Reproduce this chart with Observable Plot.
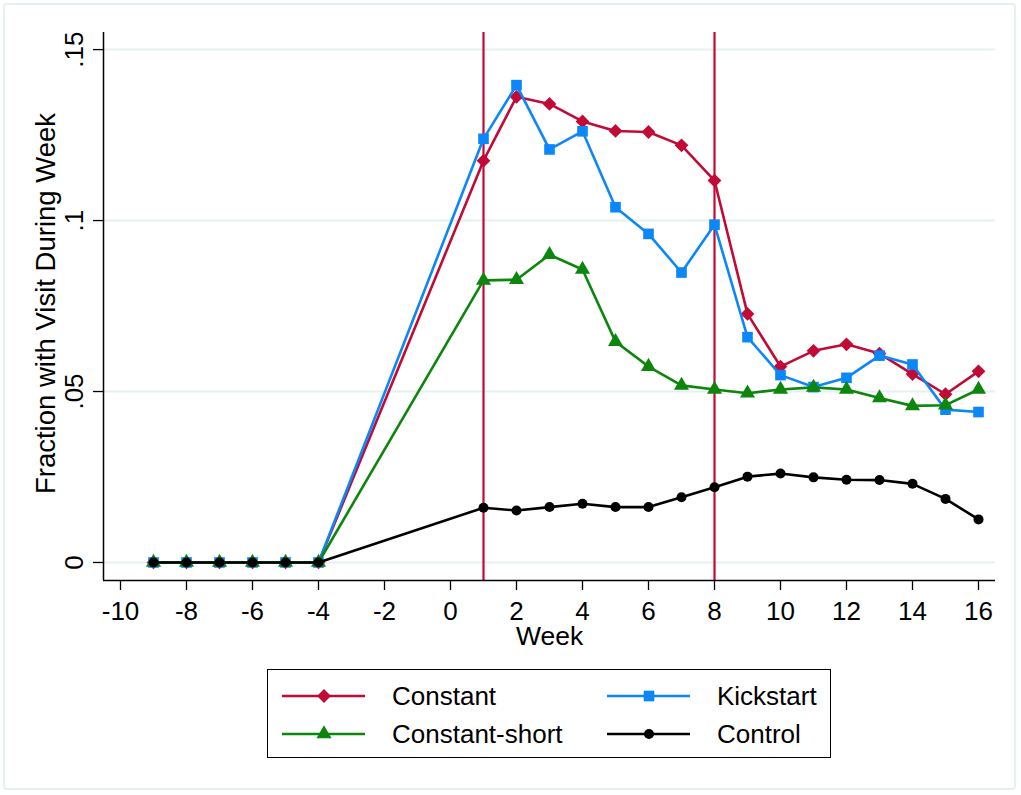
<!DOCTYPE html>
<html>
<head>
<meta charset="utf-8">
<script src="https://cdn.jsdelivr.net/npm/d3@7"></script>
<script src="https://cdn.jsdelivr.net/npm/@observablehq/plot@0.6"></script>
<style>
  html, body { margin: 0; padding: 0; background: #fff; }
  #wrap { position: relative; width: 1021px; height: 795px; font-family: "Liberation Sans", Arial, sans-serif; }
  #frame { position: absolute; left: 3px; top: 3px; width: 1013px; height: 787px; border: 2px solid #e6eff1; border-radius: 4px; box-sizing: border-box; }
  #chart { position: absolute; left: 0; top: 0; }
  #legend { position: absolute; left: 267px; top: 669px; width: 564px; height: 89px; border: 1.5px solid #000; box-sizing: border-box; background: #fff; }
</style>
</head>
<body>
<div id="wrap">
  <div id="frame"></div>
  <div id="chart"></div>
  <div id="legend"></div>
</div>
<script>
// ---- data ----
const weeks = [-9, -8, -7, -6, -5, -4, 1, 2, 3, 4, 5, 6, 7, 8, 9, 10, 11, 12, 13, 14, 15, 16];
const constant = [0, 0, 0, 0, 0, 0, 0.1175, 0.1362, 0.1341, 0.1290, 0.1262, 0.1259, 0.1220, 0.1117, 0.0727, 0.0573, 0.0619, 0.0638, 0.0611, 0.0551, 0.0492, 0.0559];
const kickstart = [0, 0, 0, 0, 0, 0, 0.1239, 0.1396, 0.1208, 0.1261, 0.1039, 0.0961, 0.0848, 0.0988, 0.0659, 0.0548, 0.0513, 0.0540, 0.0605, 0.0579, 0.0447, 0.0440];
const constantShort = [0, 0, 0, 0, 0, 0, 0.0825, 0.0827, 0.0900, 0.0857, 0.0646, 0.0573, 0.0518, 0.0506, 0.0495, 0.0506, 0.0512, 0.0506, 0.0481, 0.0458, 0.0460, 0.0506];
const control = [0, 0, 0, 0, 0, 0, 0.0160, 0.0152, 0.0162, 0.0172, 0.0162, 0.0162, 0.0191, 0.0220, 0.0251, 0.0260, 0.0249, 0.0242, 0.0241, 0.0230, 0.0186, 0.0126];
const seriesNames = ["Constant", "Kickstart", "Constant-short", "Control"];
const treatmentWeeks = [1, 8];
const xTicks = [-10, -8, -6, -4, -2, 0, 2, 4, 6, 8, 10, 12, 14, 16];
const yTicks = [0, 0.05, 0.1, 0.15];
const yTickLabels = ["0", ".05", ".1", ".15"];
const xTitle = "Week";
const yTitle = "Fraction with Visit During Week";

// ---- styles ----
const style = {
  "Constant": {color: "#c20a36", symbol: "diamond2", r: 6.2},
  "Kickstart": {color: "#0b87fa", symbol: "square", r: 6.0},
  "Constant-short": {color: "#0c860c", symbol: "triangle", r: 5.6},
  "Control": {color: "#000000", symbol: "circle", r: 5.0}
};
const valuesBySeries = {"Constant": constant, "Kickstart": kickstart, "Constant-short": constantShort, "Control": control};
const rows = seriesNames.flatMap(name => weeks.map((w, i) => ({series: name, week: w, value: valuesBySeries[name][i]})));

const FONT = 26;
const xDomain = [-10 - 17 / 33, 16 + 17 / 33];
const yDomain = [-0.00527, 0.155];

const marks = [
  Plot.gridY(yTicks, {stroke: "#e6eff2", strokeOpacity: 1, strokeWidth: 2}),
  Plot.ruleX(treatmentWeeks, {stroke: style["Constant"].color, strokeWidth: 2.2}),
  Plot.ruleX([xDomain[0]], {stroke: "#000", strokeWidth: 1.5}),
  Plot.ruleY([yDomain[0]], {stroke: "#000", strokeWidth: 1.5}),
  Plot.axisX(xTicks, {tickSize: 10, tickPadding: 11, tickFormat: d => String(d), fontSize: FONT, label: null, stroke: "#000", strokeWidth: 1.3}),
  Plot.axisY(yTicks, {tickSize: 10, tickPadding: 11, tickRotate: -90, tickFormat: d => yTickLabels[yTicks.indexOf(d)], fontSize: FONT, label: null, stroke: "#000", strokeWidth: 1.3}),
  Plot.text([xTitle], {frameAnchor: "bottom", dy: 64, fontSize: FONT + 0.5, text: d => d}),
  Plot.text([yTitle], {frameAnchor: "left", rotate: -90, dx: -57, dy: -3, textAnchor: "middle", lineAnchor: "middle", fontSize: 27.5, text: d => d})
];
for (const name of seriesNames) {
  const data = rows.filter(d => d.series === name);
  const s = style[name];
  marks.push(Plot.line(data, {x: "week", y: "value", stroke: s.color, strokeWidth: 2.6}));
  marks.push(Plot.dot(data, {x: "week", y: "value", symbol: s.symbol, r: s.r, fill: s.color, stroke: "none"}));
}

const chart = Plot.plot({
  width: 1021,
  height: 660,
  marginLeft: 103,
  marginRight: 26,
  marginTop: 32,
  marginBottom: 80,
  style: {background: "transparent", fontFamily: "'Liberation Sans', Arial, sans-serif", color: "#000"},
  x: {type: "linear", domain: xDomain},
  y: {type: "linear", domain: yDomain},
  marks
});
document.getElementById("chart").appendChild(chart);

// ---- legend ----
const legendCols = [0, 325];
const legendRows = [26, 64];
const lsvg = d3.select("#legend").append("svg").attr("width", 561).attr("height", 86)
  .style("font-family", "'Liberation Sans', Arial, sans-serif");
seriesNames.forEach((name, i) => {
  const s = style[name];
  const gx = legendCols[i % 2], gy = legendRows[Math.floor(i / 2)];
  const g = lsvg.append("g").attr("transform", `translate(${gx},${gy})`);
  g.append("line").attr("x1", 14).attr("x2", 97).attr("stroke", s.color).attr("stroke-width", 2.6);
  const sym = {diamond2: d3.symbolDiamond2, square: d3.symbolSquare, triangle: d3.symbolTriangle, circle: d3.symbolCircle}[s.symbol];
  g.append("path").attr("transform", "translate(56,0)").attr("d", d3.symbol(sym, Math.PI * s.r * s.r)()).attr("fill", s.color);
  g.append("text").attr("x", 124).attr("dy", "0.35em").attr("font-size", FONT).text(name);
});
</script>
</body>
</html>
